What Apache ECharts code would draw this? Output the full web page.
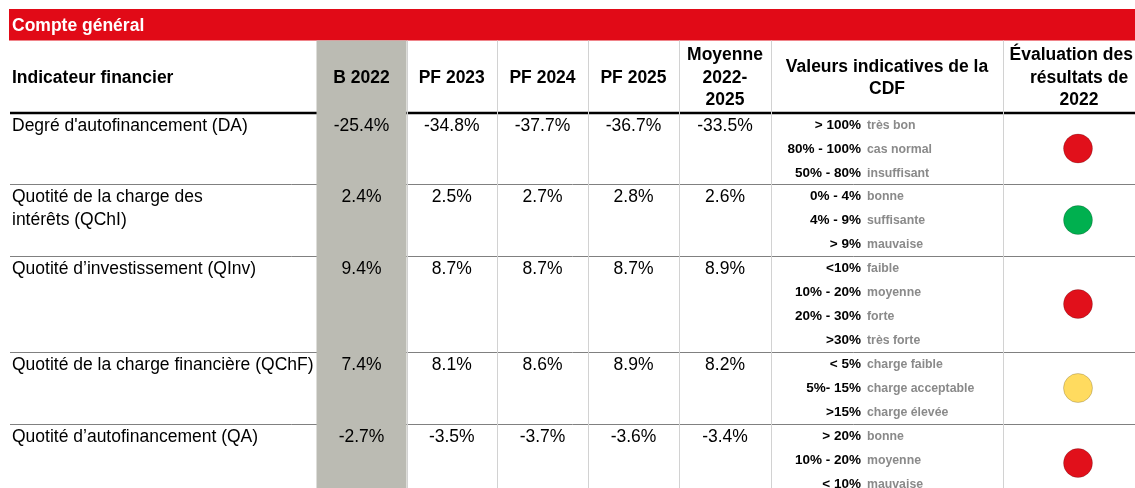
<!DOCTYPE html>
<html><head><meta charset="utf-8">
<script src="https://cdn.jsdelivr.net/npm/echarts@6/dist/echarts.min.js"></script>
<style>html,body{margin:0;padding:0;background:#fff}#c{width:1135px;height:488px}</style>
</head><body><div id="c"></div>
<script>
// ---------- DATA ----------
const title = 'Compte général';
const headerIndicator = 'Indicateur financier';
const periods = ['B 2022', 'PF 2023', 'PF 2024', 'PF 2025', 'Moyenne\n2022-\n2025'];
const headerCriteria = 'Valeurs indicatives de la\nCDF';
const headerEvaluation = 'Évaluation des\nrésultats de\n2022';
const indicators = [
  "Degré d'autofinancement (DA)",
  "Quotité de la charge des\nintérêts (QChI)",
  "Quotité d’investissement (QInv)",
  "Quotité de la charge financière (QChF)",
  "Quotité d’autofinancement (QA)"
];
const b2022  = [-25.4, 2.4, 9.4, 7.4, -2.7];
const pf2023 = [-34.8, 2.5, 8.7, 8.1, -3.5];
const pf2024 = [-37.7, 2.7, 8.7, 8.6, -3.7];
const pf2025 = [-36.7, 2.8, 8.7, 8.9, -3.6];
const moyenne = [-33.5, 2.6, 8.9, 8.2, -3.4];
const criteriaRanges = [
  ['> 100%', '80% - 100%', '50% - 80%'],
  ['0% - 4%', '4% - 9%', '> 9%'],
  ['<10%', '10% - 20%', '20% - 30%', '>30%'],
  ['< 5%', '5%- 15%', '>15%'],
  ['> 20%', '10% - 20%', '< 10%']
];
const criteriaLabels = [
  ['très bon', 'cas normal', 'insuffisant'],
  ['bonne', 'suffisante', 'mauvaise'],
  ['faible', 'moyenne', 'forte', 'très forte'],
  ['charge faible', 'charge acceptable', 'charge élevée'],
  ['bonne', 'moyenne', 'mauvaise']
];
const evaluation = ['rouge', 'vert', 'rouge', 'jaune', 'rouge'];

// ---------- LAYOUT / STYLE ----------
const valueSeries = [b2022, pf2023, pf2024, pf2025, moyenne];
const FONT = '"Liberation Sans", Arial, Helvetica, sans-serif';
const colEdges = [10, 316.5, 406.5, 497, 588, 679, 771, 1003, 1155];
const rowEdges = [113, 184, 256, 352, 424, 502];
const redTop = 9, redBottom = 40.5, W = 1135, H = 488;
const evalColors = { rouge: '#e1101b', vert: '#00b04f', jaune: '#ffdb5f' };
const bodyFont = '17.5px ' + FONT;
const headerFont = 'bold 17.5px ' + FONT;
const rangeFont = 'bold 13.5px ' + FONT;
const labelFont = 'bold 12.3px ' + FONT;
const measureCtx = document.createElement('canvas').getContext('2d');
function textWidth(t, font) { measureCtx.font = font; return measureCtx.measureText(t).width; }

const chart = echarts.init(document.getElementById('c'), null, { renderer: 'canvas' });

function txt(api, x, y, text, opt) {
  const p = api.coord([x, y]);
  return {
    type: 'text',
    style: Object.assign({
      x: p[0], y: p[1], text: text,
      font: bodyFont, fill: '#000',
      align: 'left', verticalAlign: 'middle'
    }, opt || {})
  };
}
function rect(api, x0, y0, x1, y1, fill) {
  const a = api.coord([x0, y0]), b = api.coord([x1, y1]);
  return { type: 'rect', shape: { x: a[0], y: a[1], width: b[0] - a[0], height: b[1] - a[1] }, style: { fill: fill } };
}
function line(api, x0, y0, x1, y1, stroke, w) {
  const a = api.coord([x0, y0]), b = api.coord([x1, y1]);
  return { type: 'line', shape: { x1: a[0], y1: a[1], x2: b[0], y2: b[1] }, style: { stroke: stroke, lineWidth: w } };
}

function renderFrame(params, api) {
  const ch = [];
  ch.push(rect(api, 9, redTop, W, redBottom, '#e10a17'));
  ch.push(txt(api, 12, (redTop + redBottom) / 2 + 1, title, { font: headerFont, fill: '#fff' }));
  // grey highlighted column
  ch.push(rect(api, colEdges[1], redBottom, colEdges[2], H, '#bbbbb3'));
  // vertical separators
  for (let j = 2; j <= 7; j++) {
    const x = Math.round(colEdges[j]) + 0.5;
    ch.push(line(api, x, redBottom, x, H, '#d2d2d2', 1));
  }
  const hMid = 78;
  ch.push(txt(api, 12, hMid, headerIndicator, { font: headerFont }));
  periods.forEach(function (p, j) {
    const cx = (colEdges[j + 1] + colEdges[j + 2]) / 2;
    const lines = p.split('\n');
    lines.forEach(function (l, k) {
      ch.push(txt(api, cx, hMid + (k - (lines.length - 1) / 2) * 22.5, l, { font: headerFont, align: 'center' }));
    });
  });
  const cl = headerCriteria.split('\n');
  cl.forEach(function (l, k) {
    ch.push(txt(api, (colEdges[6] + colEdges[7]) / 2, hMid + (k - (cl.length - 1) / 2) * 22, l, { font: headerFont, align: 'center' }));
  });
  const el = headerEvaluation.split('\n');
  const ecx = (colEdges[7] + colEdges[8]) / 2;
  el.forEach(function (l, k) {
    const w = textWidth(l, headerFont);
    const cx = Math.min(ecx, W - 2 - w / 2);
    ch.push(txt(api, cx, hMid + (k - (el.length - 1) / 2) * 22.5, l, { font: headerFont, align: 'center' }));
  });
  return { type: 'group', children: ch };
}

function renderRowLines(params, api) {
  const i = api.value(0);
  const ch = [];
  if (i === 0) ch.push(line(api, 10, rowEdges[0], W, rowEdges[0], '#000', 2.5));
  const y = rowEdges[i + 1] + 0.5;
  ch.push(line(api, 10, y, W, y, '#808080', 1));
  return { type: 'group', children: ch };
}

function renderCells(params, api) {
  const i = api.value(0);
  const top = rowEdges[i], bottom = rowEdges[i + 1];
  const ch = [];
  indicators[i].split('\n').forEach(function (l, k) {
    ch.push(txt(api, 12, top + 13 + k * 23, l));
  });
  valueSeries.forEach(function (arr, j) {
    const cx = (colEdges[j + 1] + colEdges[j + 2]) / 2;
    ch.push(txt(api, cx, top + 13, arr[i].toFixed(1) + '%', { align: 'center' }));
  });
  criteriaRanges[i].forEach(function (r, k) {
    const y = top + 12.5 + k * 24;
    ch.push(txt(api, 861, y, r, { font: rangeFont, align: 'right' }));
    ch.push(txt(api, 867, y, criteriaLabels[i][k], { font: labelFont, fill: '#8a8a8a' }));
  });
  const c = api.coord([1078, (top + bottom) / 2]);
  ch.push({
    type: 'circle', shape: { cx: c[0], cy: c[1], r: 14.5 },
    style: { fill: evalColors[evaluation[i]], stroke: 'rgba(0,0,0,0.18)', lineWidth: 1 }
  });
  return { type: 'group', children: ch };
}

const rowData = indicators.map(function (_, i) { return [i, i]; });

chart.setOption({
  animation: false,
  backgroundColor: '#fff',
  grid: { left: 0, right: 0, top: 0, bottom: 0 },
  xAxis: { type: 'value', min: 0, max: W, show: false },
  yAxis: { type: 'value', min: 0, max: H, inverse: true, show: false },
  series: [
    { type: 'custom', name: 'lignes', z: 1, data: rowData, renderItem: renderRowLines, silent: true },
    { type: 'custom', name: 'cadre', z: 2, data: [[0, 0]], renderItem: renderFrame, silent: true },
    { type: 'custom', name: 'cellules', z: 3, data: rowData, renderItem: renderCells, silent: true }
  ]
});
</script>
</body></html>
